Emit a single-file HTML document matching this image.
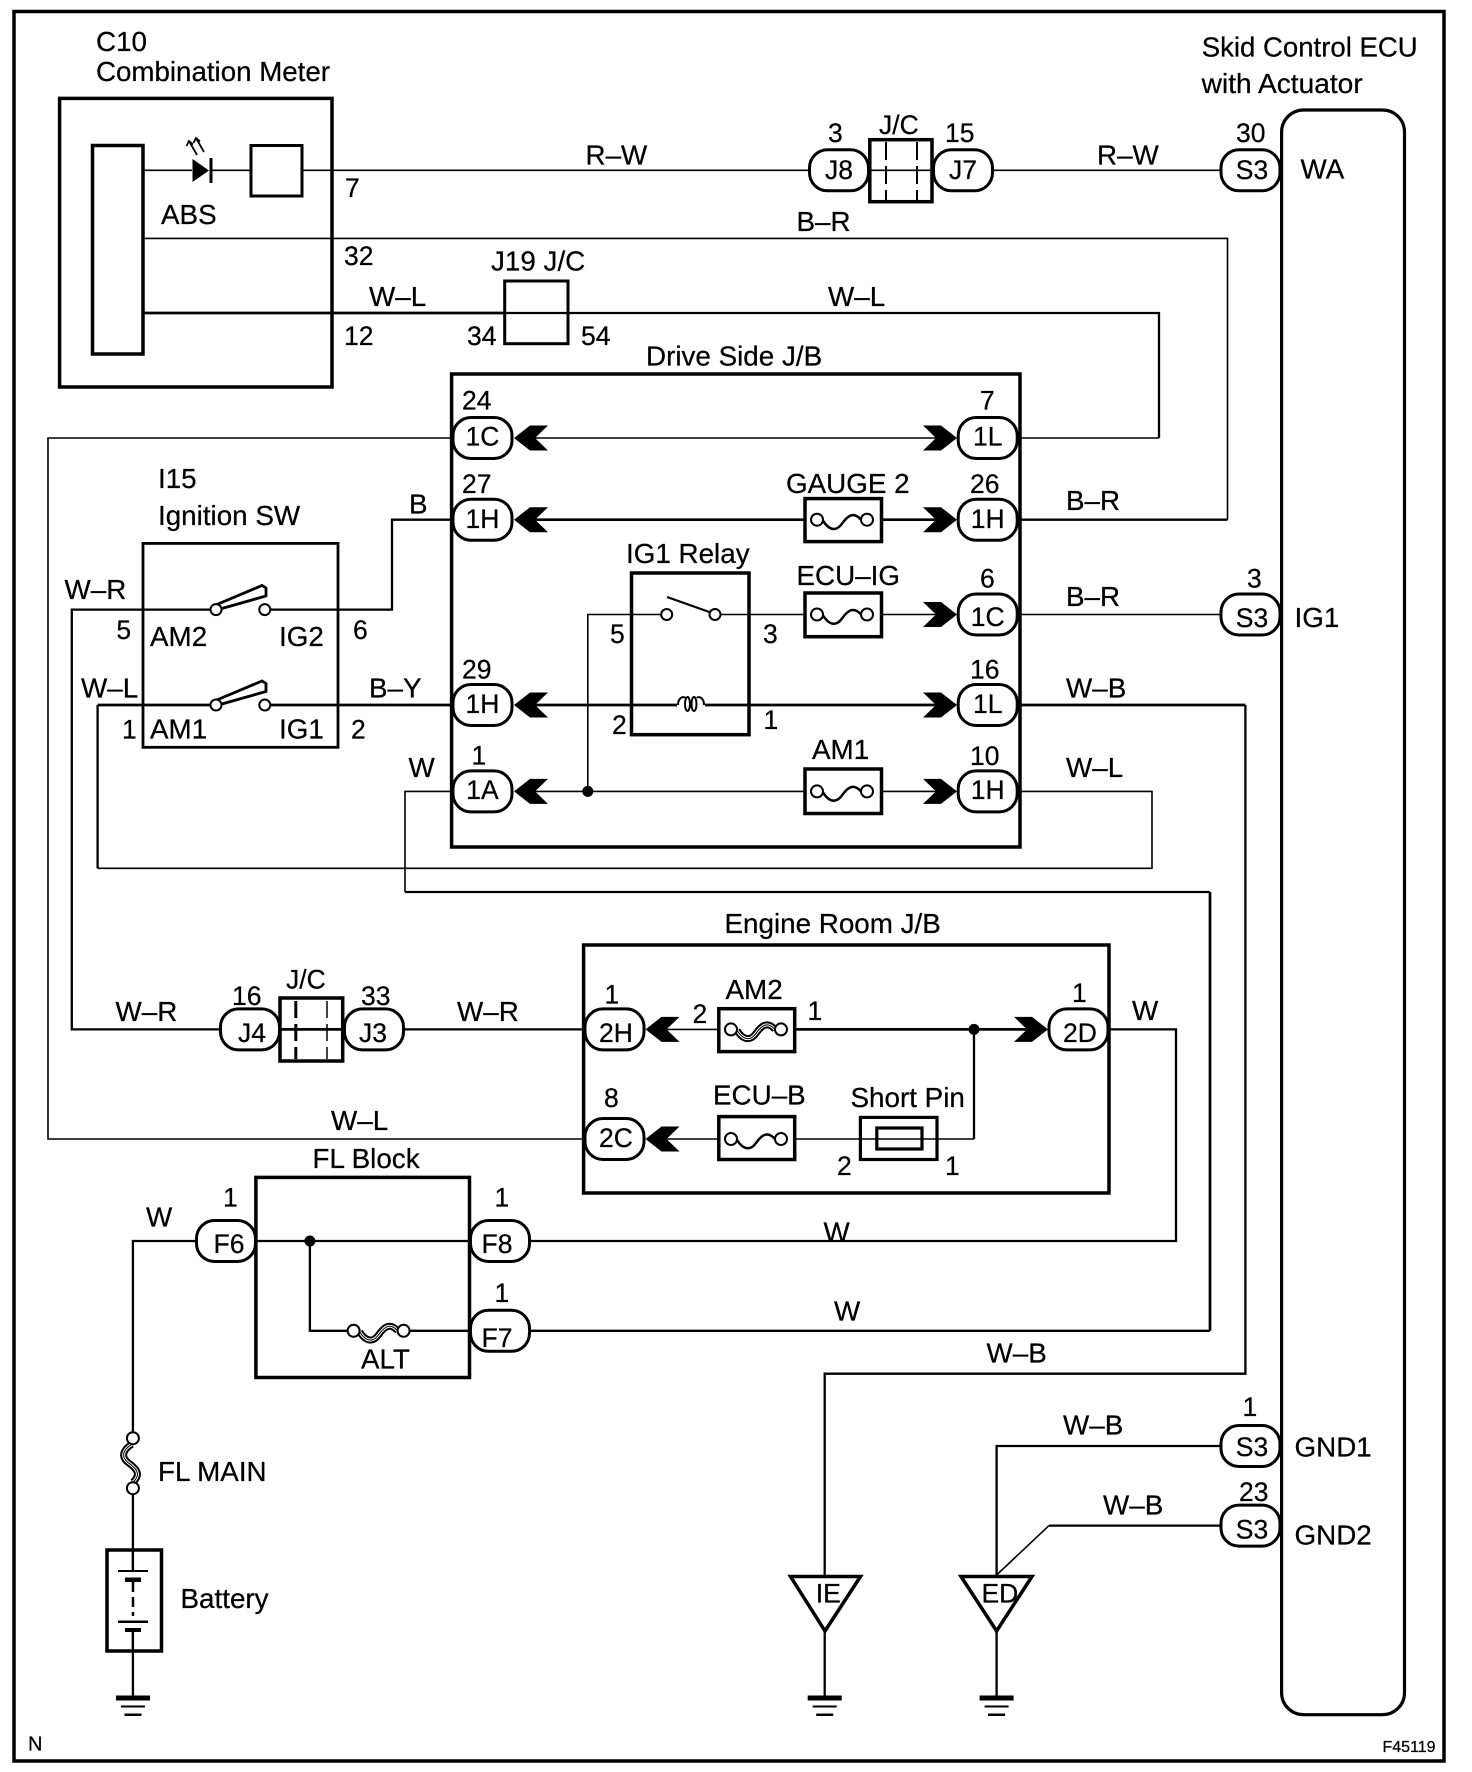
<!DOCTYPE html>
<html><head><meta charset="utf-8"><style>
html,body{margin:0;padding:0;background:#fff}
svg{display:block}
text{font-family:"Liberation Sans",sans-serif;font-size:27.8px;fill:#000;stroke:#000;stroke-width:.25}
.m{text-anchor:middle;font-size:26.5px}
.n{font-size:26.5px}
.w{fill:none;stroke:#000;stroke-width:1.6}
.t{fill:none;stroke:#000;stroke-width:2.3}
.k{fill:none;stroke:#000;stroke-width:2.7}
.b{fill:none;stroke:#000;stroke-width:3.5}
.p{fill:#fff;stroke:#000;stroke-width:3}
</style></head><body>
<svg xmlns="http://www.w3.org/2000/svg" width="1472" height="1772" viewBox="0 0 1472 1772">
<defs>
<polygon id="al" points="0,0 16,-12.5 34,-12.5 21,0 34,12.5 16,12.5" fill="#000"/>
<polygon id="ar" points="0,0 -16,-12.5 -34,-12.5 -21,0 -34,12.5 -16,12.5" fill="#000"/>
<g id="fuse"><path d="M-19,1 C-12,12 -5,11 0,4 S11,-9 19,0" fill="none" stroke="#000" stroke-width="2.5"/><circle cx="-25" r="6" fill="#fff" stroke="#000" stroke-width="2"/><circle cx="25" r="6" fill="#fff" stroke="#000" stroke-width="2"/></g>
<g id="fuse2"><path d="M-19,1 C-12,12 -5,11 0,4 S11,-9 19,0" fill="none" stroke="#000" stroke-width="7"/><path d="M-19,1 C-12,12 -5,11 0,4 S11,-9 19,0" fill="none" stroke="#fff" stroke-width="3"/><path d="M-19,1 C-12,12 -5,11 0,4 S11,-9 19,0" fill="none" stroke="#000" stroke-width="1"/><circle cx="-25" r="6" fill="#fff" stroke="#000" stroke-width="2"/><circle cx="25" r="6" fill="#fff" stroke="#000" stroke-width="2"/></g>
<g id="gnd"><rect x="-17" y="-2.5" width="34" height="5" fill="#000"/><rect x="-12" y="7.5" width="24" height="2" fill="#000"/><rect x="-8.5" y="15.5" width="17" height="2.5" fill="#000"/></g>
<rect id="pill" x="-29.5" y="-20.5" width="59" height="41" rx="18" ry="18" class="p"/>
</defs>

<rect x="14" y="11.5" width="1430" height="1749.5" fill="none" stroke="#000" stroke-width="3.5"/>

<!-- wires -->
<path class="w" d="M143,170.3H192M211,170.3H251M302,170.3H809M993,170.3H1221"/>
<path class="w" d="M143,238.4H1227.5V519.7"/>
<path class="t" d="M1020,519.7H1227.5"/>
<path class="k" d="M143,313H504.7"/>
<path class="t" d="M504,313H1159V438"/>
<path class="w" d="M1159,438H1020"/>
<path class="w" d="M453,438H48V1139H584"/>
<path class="w" d="M535,438H936"/>
<path class="t" d="M453,519.7H392V609.6H270"/>
<path class="k" d="M535,519.7H805M881,519.7H936"/>
<path class="t" d="M211,609.6H71.8V1029.4H219"/>
<path class="t" d="M404,1029.4H584"/>
<path class="t" d="M280,1029.4H344"/>
<path class="w" d="M587.8,791.4V614.5H662"/>
<path class="w" d="M720,614.5H805M881,614.5H936"/>
<path class="w" d="M1020,614.5H1221"/>
<path class="k" d="M211,705H97.6"/>
<path class="t" d="M97.6,705V868.3"/>
<path class="w" d="M97.6,868.3H1152V791.4H1020"/>
<path class="k" d="M270,705H453"/>
<path class="k" d="M535,705H936"/>
<path class="k" d="M1020,705H1245.4"/>
<path class="t" d="M1245.4,705V1373.7H824.7V1575"/>
<path class="w" d="M453,791.4H405V892"/>
<path class="t" d="M405,892H1210"/>
<path class="k" d="M1210,892V1330.8"/>
<path class="t" d="M1210,1330.8H530"/>
<path class="w" d="M535,791.4H805M881,791.4H936"/>
<path class="w" d="M666,1029.4H719"/>
<path class="k" d="M795,1029.4H1028"/>
<path class="t" d="M974,1029.4V1139"/>
<path class="w" d="M666,1139H719"/>
<path class="t" d="M1108,1029.4H1176V1241H530"/>
<path class="t" d="M256,1241H470M195.8,1241H132.9V1433"/>
<path class="t" d="M309.9,1241V1330.8H348M409,1330.8H470"/>
<path class="t" d="M132.9,1493V1570.8"/>
<path class="t" d="M996.6,1575V1446H1221"/>
<path class="t" d="M1049,1525.6H1221"/>
<path class="w" d="M996.6,1575L1049,1525.6"/>
<path class="t" d="M824.7,1630V1696M996.6,1630V1696M132.9,1630V1696"/>

<!-- C10 -->
<rect x="59.6" y="98.4" width="272.4" height="288.6" class="b"/>
<rect x="92.5" y="145.5" width="50.5" height="208.5" class="b"/>
<rect x="251" y="145.5" width="51" height="50.5" fill="none" stroke="#000" stroke-width="3"/>
<polygon points="192.5,159 209,170.5 192.5,182" fill="#000"/><rect x="209.5" y="158" width="3" height="25" fill="#000"/>
<path d="M197,155L189,141M204,152L196,138M186.5,146L189,141L193,144.5M193.5,143L196,138L200,141.5" fill="none" stroke="#000" stroke-width="1.8"/>

<!-- J/C top -->
<rect x="869.8" y="139.7" width="62.2" height="62" fill="#fff" stroke="#000" stroke-width="3.5"/>
<path class="w" d="M870,170.3H932"/>
<path d="M886,142V200M917,142V200" fill="none" stroke="#000" stroke-width="2" stroke-dasharray="18 6"/>

<!-- J19 -->
<rect x="504.7" y="281" width="63.3" height="62.7" fill="none" stroke="#000" stroke-width="3"/>

<!-- Drive J/B -->
<rect x="451.6" y="374" width="568.4" height="473" class="b"/>

<!-- Ignition -->
<rect x="143" y="543.4" width="195" height="203.9" fill="none" stroke="#000" stroke-width="2.8"/>
<polygon points="218,604 262,585.5 266,588 266,596 220,609" fill="#fff" stroke="#000" stroke-width="2.8"/>
<polygon points="218,699.5 262,681 266,683.5 266,691.5 220,704.5" fill="#fff" stroke="#000" stroke-width="2.8"/>
<g fill="#fff" stroke="#000" stroke-width="2"><circle cx="216" cy="609.6" r="5.5"/><circle cx="264.8" cy="609.6" r="5.5"/><circle cx="216" cy="705" r="5.5"/><circle cx="264.8" cy="705" r="5.5"/></g>

<!-- Relay -->
<rect x="631.5" y="573" width="117.5" height="161.7" class="b"/>
<path d="M667,597L715,614" fill="none" stroke="#000" stroke-width="2.2"/>
<g fill="#fff" stroke="#000" stroke-width="2"><circle cx="666.7" cy="614.5" r="5.5"/><circle cx="715" cy="614.5" r="5.5"/></g>
<rect x="677" y="695" width="28" height="12" fill="#fff"/>
<path d="M678,705C678,697 684,696 685,698M704,705C704,697 698,696 697,698" fill="none" stroke="#000" stroke-width="2"/>
<ellipse cx="687.5" cy="704" rx="2.5" ry="7" fill="#fff" stroke="#000" stroke-width="2"/><ellipse cx="694" cy="704" rx="2.5" ry="7" fill="#fff" stroke="#000" stroke-width="2"/>

<!-- Fuses drive -->
<rect x="805" y="498.6" width="76.5" height="43" class="b" style="fill:#fff"/><use href="#fuse" x="842" y="519.7"/>
<rect x="805" y="593" width="76.5" height="43.7" class="b" style="fill:#fff"/><use href="#fuse" x="842" y="614.5"/>
<rect x="805" y="769" width="76.5" height="44.5" class="b" style="fill:#fff"/><use href="#fuse" x="842" y="791.4"/>

<!-- Engine J/B -->
<rect x="583.6" y="945" width="525.4" height="248" class="b"/>
<rect x="718.8" y="1008.7" width="75.9" height="42.9" class="b" style="fill:#fff"/><use href="#fuse2" x="756" y="1029.4"/>
<rect x="718.8" y="1116.6" width="75.9" height="42.9" class="b" style="fill:#fff"/><use href="#fuse" x="756" y="1139"/>
<path class="w" d="M795,1139H974"/>
<rect x="860.4" y="1117.4" width="76.6" height="42.1" fill="none" stroke="#000" stroke-width="3.2"/>
<rect x="876.8" y="1128" width="45.2" height="21" fill="none" stroke="#000" stroke-width="3.2"/>
<circle cx="974" cy="1029.4" r="5.5" fill="#000"/>
<circle cx="587.8" cy="791.4" r="5.5" fill="#000"/>

<!-- J/C bottom -->
<rect x="280" y="998" width="62.7" height="63" fill="#fff" stroke="#000" stroke-width="3.5"/>
<path class="k" d="M280,1029.4H343"/>
<path d="M295.8,1001V1059" fill="none" stroke="#000" stroke-width="3" stroke-dasharray="17 6"/>
<path d="M327,1001V1059" fill="none" stroke="#000" stroke-width="1.5" stroke-dasharray="17 6"/>

<!-- FL block -->
<rect x="255.9" y="1177.4" width="213.6" height="200.1" class="b"/>
<circle cx="309.9" cy="1241" r="5.5" fill="#000"/>
<use href="#fuse2" x="378.6" y="1330.8"/>
<use href="#fuse2" transform="translate(132.9,1463.2) rotate(90)"/>

<!-- Battery -->
<rect x="107" y="1550" width="54.5" height="101" class="b"/>
<path class="t" d="M132.9,1550V1570.8"/>
<rect x="118" y="1570" width="30" height="2" fill="#000"/>
<rect x="125" y="1577.5" width="16" height="4.5" fill="#000"/>
<path d="M133,1582V1616" fill="none" stroke="#000" stroke-width="2.5" stroke-dasharray="10 5"/>
<rect x="118" y="1620.5" width="30" height="2.5" fill="#000"/>
<rect x="125" y="1628" width="16" height="4" fill="#000"/>
<path class="t" d="M132.9,1630V1651"/>

<!-- ECU -->
<rect x="1281.6" y="110" width="122.9" height="1604.7" rx="22" ry="22" fill="#fff" stroke="#000" stroke-width="3.2"/>

<!-- Grounds, triangles -->
<polygon points="790.5,1576.5 860.5,1576.5 825,1631" fill="#fff" stroke="#000" stroke-width="3.5"/>
<polygon points="961,1576.5 1032,1576.5 996.6,1631" fill="#fff" stroke="#000" stroke-width="3.5"/>
<use href="#gnd" x="824.7" y="1698"/><use href="#gnd" x="996.6" y="1698"/><use href="#gnd" x="133" y="1698"/>

<!-- arrows -->
<use href="#al" x="514" y="438"/><use href="#al" x="514" y="519.7"/><use href="#al" x="514" y="705"/><use href="#al" x="514" y="791.4"/>
<use href="#ar" x="957" y="438"/><use href="#ar" x="957" y="519.7"/><use href="#ar" x="957" y="614.5"/><use href="#ar" x="957" y="705"/><use href="#ar" x="957" y="791.4"/>
<use href="#al" x="645.5" y="1029.4"/><use href="#al" x="645.5" y="1139"/>
<use href="#ar" x="1048" y="1029.4"/>

<!-- pills -->
<use href="#pill" x="482.5" y="438"/><use href="#pill" x="482.5" y="519.7"/><use href="#pill" x="482.5" y="705"/><use href="#pill" x="482.5" y="791.4"/>
<use href="#pill" x="987.7" y="438"/><use href="#pill" x="987.7" y="519.7"/><use href="#pill" x="987.7" y="614.5"/><use href="#pill" x="987.7" y="705"/><use href="#pill" x="987.7" y="791.4"/>
<use href="#pill" x="839" y="170.3"/><use href="#pill" x="963" y="170.3"/><use href="#pill" x="1250.5" y="170.3"/><use href="#pill" x="1250.5" y="614.5"/><use href="#pill" x="1250.5" y="1446"/><use href="#pill" x="1250.5" y="1525.6"/>
<use href="#pill" x="250" y="1029.4"/><use href="#pill" x="374" y="1029.4"/><use href="#pill" x="614.5" y="1029.4"/><use href="#pill" x="614.5" y="1139"/><use href="#pill" x="1078.5" y="1029.4"/>
<use href="#pill" x="226" y="1241"/><use href="#pill" x="500" y="1241"/><use href="#pill" x="500" y="1330.8"/>

<!-- text -->
<text x="96" y="51">C10</text>
<text x="96" y="81" textLength="234" lengthAdjust="spacingAndGlyphs">Combination Meter</text>
<text x="161" y="224">ABS</text>
<text class="n" x="345" y="197">7</text><text class="n" x="344" y="265">32</text><text class="n" x="344" y="345">12</text>
<text x="369" y="306">W–L</text>
<text x="491" y="270.6">J19 J/C</text>
<text class="n" x="467" y="345">34</text><text class="n" x="581" y="345">54</text>
<text x="585.5" y="164.5">R–W</text>
<text x="646" y="365.5">Drive Side J/B</text>
<text class="n" x="462" y="409.5">24</text><text class="n" x="462" y="493">27</text><text class="n" x="462" y="678.5">29</text><text class="n" x="471.500" y="764.5">1</text>
<text x="158" y="488">I15</text><text x="158" y="525">Ignition SW</text>
<text x="409" y="513.6">B</text>
<text x="626" y="563">IG1 Relay</text>
<text x="64.5" y="599">W–R</text>
<text class="n" x="116.4" y="639">5</text><text x="150" y="646">AM2</text><text x="279" y="646">IG2</text><text class="n" x="353" y="639">6</text>
<text x="81" y="697.6">W–L</text><text x="369" y="697.6">B–Y</text>
<text class="n" x="122" y="738.5">1</text><text x="150" y="738.5">AM1</text><text x="279" y="738.5">IG1</text><text class="n" x="351" y="738.5">2</text>
<text x="408.5" y="776.8">W</text>
<text class="n" x="610" y="643">5</text><text class="n" x="612" y="734">2</text><text class="n" x="763" y="643">3</text><text class="n" x="763.5" y="729">1</text>
<text class="n" x="828" y="142">3</text><text class="n" x="879" y="134">J/C</text><text class="n" x="945" y="142">15</text><text class="n" x="1236" y="142">30</text>
<text x="1097" y="164.5">R–W</text><text x="796.5" y="231">B–R</text><text x="828" y="306">W–L</text>
<text class="n" x="980" y="409.5">7</text><text x="1300.5" y="178.7">WA</text>
<text x="1201.7" y="56.6" textLength="216" lengthAdjust="spacingAndGlyphs">Skid Control ECU</text>
<text x="1201.7" y="93" textLength="161" lengthAdjust="spacingAndGlyphs">with Actuator</text>
<text x="786" y="493">GAUGE 2</text><text class="n" x="970" y="493">26</text><text x="1066" y="510">B–R</text>
<text x="796.5" y="585">ECU–IG</text><text class="n" x="980" y="587.5">6</text><text x="1066" y="606">B–R</text><text class="n" x="1247" y="587.5">3</text>
<text x="1294.5" y="626.8">IG1</text>
<text class="n" x="970" y="678.5">16</text><text x="1066" y="697.6">W–B</text>
<text x="812" y="758.8">AM1</text><text class="n" x="970" y="765">10</text><text x="1066" y="776.8">W–L</text>
<text x="724.5" y="933">Engine Room J/B</text>
<text x="725.5" y="998.8">AM2</text><text class="n" x="692.5" y="1023">2</text><text class="n" x="807.5" y="1020">1</text><text class="n" x="1072" y="1001.8">1</text><text x="1132" y="1020">W</text>
<text class="n" x="604.5" y="1003.7">1</text><text class="n" x="604" y="1107">8</text>
<text class="n" x="232" y="1005">16</text><text class="n" x="286" y="988.4">J/C</text><text class="n" x="361" y="1005">33</text>
<text x="115.5" y="1021">W–R</text><text x="457" y="1021">W–R</text><text x="331" y="1130">W–L</text>
<text x="312.5" y="1168">FL Block</text>
<text x="713" y="1104.4">ECU–B</text><text x="850.5" y="1107">Short Pin</text><text class="n" x="837" y="1175">2</text><text class="n" x="945" y="1175">1</text>
<text class="n" x="223" y="1206.4">1</text><text class="n" x="494.5" y="1206.4">1</text><text class="n" x="494.5" y="1302">1</text><text x="146" y="1226.7">W</text>
<text x="361" y="1368.3">ALT</text><text x="158" y="1480.8">FL MAIN</text><text x="180.5" y="1608">Battery</text>
<text x="823.5" y="1241.6">W</text><text x="834" y="1320.5">W</text><text x="986.5" y="1362.6">W–B</text>
<text class="n" x="1242.5" y="1416">1</text><text x="1063" y="1434.5">W–B</text><text class="n" x="1239" y="1501">23</text><text x="1103" y="1514.5">W–B</text>
<text x="1294.5" y="1456.3">GND1</text><text x="1294.5" y="1544.4">GND2</text>
<text class="n" x="815.8" y="1602.5">IE</text><text class="n" x="981.5" y="1602.5">ED</text>
<text x="28" y="1750.6" style="font-size:20px">N</text>
<text x="1382.5" y="1751.8" style="font-size:16px">F45119</text>

<!-- pill labels -->
<g>
<text class="m" x="482.5" y="445.5">1C</text><text class="m" x="482.5" y="528">1H</text><text class="m" x="482.5" y="713">1H</text><text class="m" x="482.5" y="799">1A</text>
<text class="m" x="987.7" y="445.5">1L</text><text class="m" x="987.7" y="528">1H</text><text class="m" x="987.7" y="626">1C</text><text class="m" x="987.7" y="713">1L</text><text class="m" x="987.7" y="799">1H</text>
<text class="m" x="839" y="179">J8</text><text class="m" x="963" y="179">J7</text><text class="m" x="1252" y="179">S3</text><text class="m" x="1252" y="626.8">S3</text><text class="m" x="1252" y="1456">S3</text><text class="m" x="1252" y="1538.6">S3</text>
<text class="m" x="252" y="1042">J4</text><text class="m" x="373" y="1042">J3</text><text class="m" x="616" y="1042">2H</text><text class="m" x="616" y="1147">2C</text><text class="m" x="1080" y="1042">2D</text>
<text class="m" x="229" y="1253">F6</text><text class="m" x="497" y="1253">F8</text><text class="m" x="497" y="1347">F7</text>
</g>
</svg>
</body></html>
